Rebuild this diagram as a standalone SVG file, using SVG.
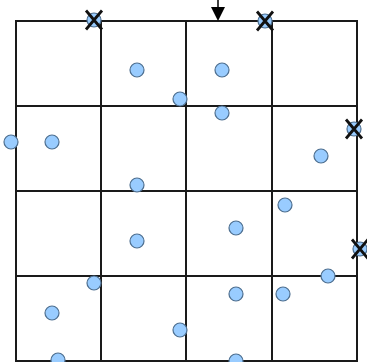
<svg xmlns="http://www.w3.org/2000/svg" width="367" height="362" viewBox="0 0 367 362">
<style>
.grid{stroke:#1a1a1a;stroke-width:2;fill:none}
.pt{fill:#99ccff;stroke:#4d6e8f;stroke-width:1.2}
.x{stroke:#111;stroke-width:2.8;fill:none}
.arr{stroke:#000;stroke-width:1.5}
</style>
<defs>
<g id="xm"><path class="x" d="M-8,-9.5 L8,9.5 M8,-9.5 L-8,9.5"/></g>
</defs>
<rect width="367" height="362" fill="#fff"/>
<g id="grid">
<rect class="grid" x="16" y="21" width="341" height="340"/>
<path class="grid" d="M101,21V361 M186,21V361 M272,21V361 M16,106H357 M16,191H357 M16,276H357"/>
</g>
<g id="connectors">
<path d="M218,0 V10" class="arr"/>
<path d="M211,7 L225,7 L218,21 z" fill="#000"/>
</g>
<g id="points">
<circle class="pt" cx="94" cy="20" r="7"/>
<circle class="pt" cx="137" cy="70" r="7"/>
<circle class="pt" cx="180" cy="99" r="7"/>
<circle class="pt" cx="222" cy="70" r="7"/>
<circle class="pt" cx="265" cy="21" r="7"/>
<circle class="pt" cx="222" cy="113" r="7"/>
<circle class="pt" cx="11" cy="142" r="7"/>
<circle class="pt" cx="52" cy="142" r="7"/>
<circle class="pt" cx="137" cy="185" r="7"/>
<circle class="pt" cx="137" cy="241" r="7"/>
<circle class="pt" cx="354" cy="129" r="7"/>
<circle class="pt" cx="321" cy="156" r="7"/>
<circle class="pt" cx="285" cy="205" r="7"/>
<circle class="pt" cx="236" cy="228" r="7"/>
<circle class="pt" cx="360" cy="249" r="7"/>
<circle class="pt" cx="94" cy="283" r="7"/>
<circle class="pt" cx="52" cy="313" r="7"/>
<circle class="pt" cx="58" cy="360" r="7"/>
<circle class="pt" cx="180" cy="330" r="7"/>
<circle class="pt" cx="328" cy="276" r="7"/>
<circle class="pt" cx="236" cy="294" r="7"/>
<circle class="pt" cx="283" cy="294" r="7"/>
<circle class="pt" cx="236" cy="361" r="7"/>
</g>
<g id="marks">
<use href="#xm" x="94" y="20"/>
<use href="#xm" x="265" y="21"/>
<use href="#xm" x="354" y="129"/>
<use href="#xm" x="360" y="249"/>
</g>
</svg>
